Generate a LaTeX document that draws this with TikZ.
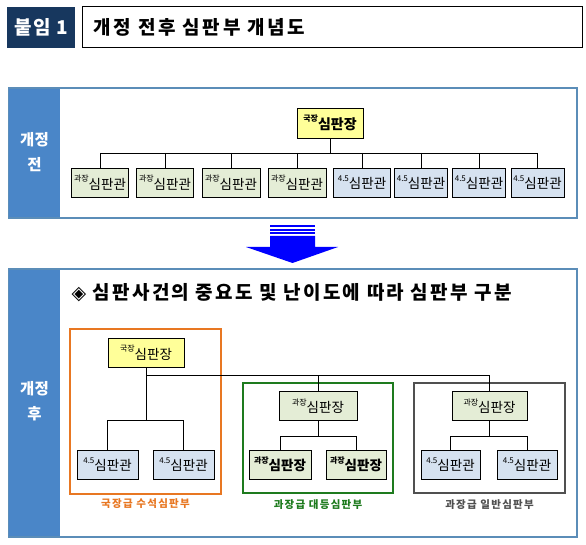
\documentclass[tikz,border=0pt]{standalone}
\usepackage{fontspec}
\setmainfont{Noto Sans CJK KR}
\newfontfamily\dejavu{DejaVu Sans}
\usetikzlibrary{calc}
\definecolor{navy}{HTML}{17375E}
\definecolor{bandblue}{HTML}{4A86C8}
\definecolor{framec}{HTML}{5B8DB8}
\definecolor{yel}{HTML}{FFFF99}
\definecolor{lgreen}{HTML}{E4EDD6}
\definecolor{lblue}{HTML}{D6E2F0}
\definecolor{orng}{HTML}{E87722}
\definecolor{dgreen}{HTML}{1E7B1E}
\definecolor{dgray}{HTML}{505050}
\definecolor{arrowblue}{HTML}{0000FF}
\tikzset{
  nd/.style={draw=black, line width=0.9pt, inner sep=0pt, minimum height=29pt, font=\fontsize{13.5}{14}\selectfont},
  yn/.style={nd, fill=yel},
  gn/.style={nd, fill=lgreen},
  bn/.style={nd, fill=lblue},
  conn/.style={draw=black, line width=0.8pt},
  frm/.style={draw=framec, line width=1.3pt},
  grouplab/.style={font=\fontsize{10.5}{11}\bfseries\selectfont\addfontfeature{LetterSpace=12}}
}
\newcommand{\rk}[1]{\raisebox{0.55em}{\fontsize{8}{8}\selectfont #1}}
\begin{document}
\begin{tikzpicture}[x=1pt,y=-1pt]
\useasboundingbox (0,0) rectangle (586,545);
% header
\node[fill=navy, minimum width=68pt, minimum height=41pt, inner sep=0pt, text=white, font=\fontsize{19}{20}\bfseries\selectfont\addfontfeature{LetterSpace=8}] (tag) at (41,27.5) {붙임 1};
\node[draw=black, line width=1pt, minimum width=500pt, minimum height=41pt, inner sep=0pt] (titlebox) at (332,27.5) {};
\node[anchor=west, font=\fontsize{19}{20}\bfseries\selectfont\addfontfeature{LetterSpace=14}] (title) at (90,27.5) {개정 전후 심판부 개념도};

% section 1 frame
\node[frm, fill=white, minimum width=568pt, minimum height=130pt, inner sep=0pt] (sec1) at (293,153) {};
\node[fill=bandblue, minimum width=51pt, minimum height=128.7pt, inner sep=0pt] (band1) at (34.5,153) {};
\node[text=white, font=\fontsize{15.5}{25}\bfseries\selectfont, align=center] (lab1) at (34.5,152) {개정\\전};

\node[yn, minimum width=66pt, minimum height=30pt, font=\fontsize{14}{15}\bfseries\selectfont] (t1) at (330,123) {\rk{국장}심판장};
\coordinate (bus1) at (0,153);
\node[gn, minimum width=57pt] (c1) at (100,182.5) {\rk{과장}심판관};
\node[gn, minimum width=57pt] (c2) at (165,182.5) {\rk{과장}심판관};
\node[gn, minimum width=58pt] (c3) at (231,182.5) {\rk{과장}심판관};
\node[gn, minimum width=58pt] (c4) at (297,182.5) {\rk{과장}심판관};
\node[bn, minimum width=57pt] (c5) at (362,182.5) {\rk{4.5}심판관};
\node[bn, minimum width=53pt] (c6) at (421,182.5) {\rk{4.5}심판관};
\node[bn, minimum width=53pt] (c7) at (479,182.5) {\rk{4.5}심판관};
\node[bn, minimum width=53pt] (c8) at (537.5,182.5) {\rk{4.5}심판관};
\draw[conn] (t1.south) -- (t1.south |- bus1);
\draw[conn] (c1.north |- bus1) -- (c8.north |- bus1);
\foreach \c in {c1,c2,c3,c4,c5,c6,c7,c8} { \draw[conn] (\c.north |- bus1) -- (\c.north); }

% arrow
\fill[arrowblue] (270,225.5) rectangle (315,227.5);
\fill[arrowblue] (270,229) rectangle (315,231);
\fill[arrowblue] (270,232.5) rectangle (315,234.5);
\fill[arrowblue] (270,236) -- (315,236) -- (315,247) -- (338,247) -- (292.5,263) -- (246,247) -- (270,247) -- cycle;

% section 2 frame
\node[frm, fill=white, minimum width=568pt, minimum height=268pt, inner sep=0pt] (sec2) at (293,403) {};
\node[fill=bandblue, minimum width=51pt, minimum height=266.7pt, inner sep=0pt] (band2) at (34.5,403) {};
\node[text=white, font=\fontsize{15.5}{25}\bfseries\selectfont, align=center] (lab2) at (34.5,401) {개정\\후};
\node[anchor=west, font=\fontsize{19}{20}\bfseries\selectfont\addfontfeature{LetterSpace=12}] (head) at (68,293) {{\dejavu ◈} 심판사건의 중요도 및 난이도에 따라 심판부 구분};

% group boxes
\draw[draw=orng, line width=2pt] (70,329) rectangle (221,494);
\node[text=orng, grouplab] (olab) at (145.5,504) {국장급 수석심판부};
\draw[draw=dgreen, line width=2pt] (243,383) rectangle (393,493);
\node[text=dgreen, grouplab] (glab) at (318,505) {과장급 대등심판부};
\draw[draw=dgray, line width=2.3pt] (414,383) rectangle (565,493);
\node[text=dgray, grouplab] (ylab) at (489.5,505) {과장급 일반심판부};

% nodes section 2
\node[yn, minimum width=76pt] (a0) at (146,352.5) {\rk{국장}심판장};
\node[bn, minimum width=61pt] (a1) at (107.5,464.5) {\rk{4.5}심판관};
\node[bn, minimum width=61pt] (a2) at (183.5,464.5) {\rk{4.5}심판관};
\node[gn, minimum width=78pt] (g0) at (318,406) {\rk{과장}심판장};
\node[gn, minimum width=62pt, font=\fontsize{13.5}{14}\bfseries\selectfont] (g1) at (280,464.5) {\rk{과장}심판장};
\node[gn, minimum width=60pt, font=\fontsize{13.5}{14}\bfseries\selectfont] (g2) at (356,464.5) {\rk{과장}심판장};
\node[gn, minimum width=75pt] (y0) at (489.5,406) {\rk{과장}심판장};
\node[bn, minimum width=59pt] (y1) at (450.5,464.5) {\rk{4.5}심판관};
\node[bn, minimum width=60pt] (y2) at (527,464.5) {\rk{4.5}심판관};

\coordinate (mainbus) at (0,375);
\coordinate (abus) at (0,420);
\coordinate (gbus) at (0,436);
\draw[conn] (a0.south) -- (a0.south |- abus);
\draw[conn] (a0.south |- mainbus) -- (y0.north |- mainbus) -- (y0.north);
\draw[conn] (g0.north |- mainbus) -- (g0.north);
\draw[conn] (a1.north) -- (a1.north |- abus) -- (a2.north |- abus) -- (a2.north);
\draw[conn] (g0.south) -- (g0.south |- gbus);
\draw[conn] (g1.north) -- (g1.north |- gbus) -- (g2.north |- gbus) -- (g2.north);
\draw[conn] (y0.south) -- (y0.south |- gbus);
\draw[conn] (y1.north) -- (y1.north |- gbus) -- (y2.north |- gbus) -- (y2.north);
\end{tikzpicture}
\end{document}
